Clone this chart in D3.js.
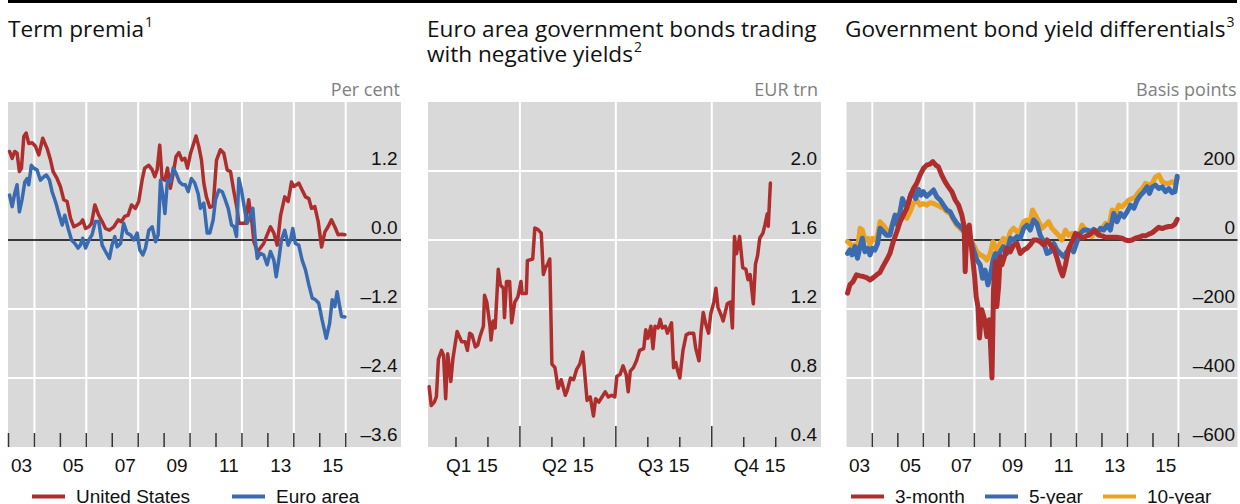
<!DOCTYPE html>
<html>
<head>
<meta charset="utf-8">
<script src="https://cdn.jsdelivr.net/npm/d3@7/dist/d3.min.js"></script>
<style>
  html, body { margin: 0; padding: 0; background: #fff; }
  svg { display: block; }
  .title { font-family: "Open Sans", "Noto Sans", sans-serif; font-size: 22.6px; fill: #111; }
  .sup { font-family: "Open Sans", "Noto Sans", sans-serif; font-size: 14px; fill: #111; }
  .unit { font-family: "Open Sans", "Noto Sans", sans-serif; font-size: 18px; fill: #808080; }
  .tick-label { font-family: "Liberation Sans", Arial, sans-serif; font-size: 19px; fill: #111; }
  .legend-label { font-family: "Liberation Sans", Arial, sans-serif; font-size: 19px; fill: #111; }
</style>
</head>
<body>
<svg id="chart" width="1240" height="504"></svg>
<script>
// ---- Term premia (per cent), [year, value]
const usTermPremium = [[2003.04,1.54],[2003.14,1.42],[2003.24,1.54],[2003.33,1.51],[2003.42,1.19],[2003.50,1.25],[2003.59,1.80],[2003.68,1.86],[2003.78,1.68],[2003.91,1.69],[2004.04,1.63],[2004.17,1.48],[2004.32,1.77],[2004.49,1.59],[2004.62,1.39],[2004.72,1.19],[2004.87,1.07],[2005.00,0.93],[2005.13,0.70],[2005.26,0.67],[2005.39,0.38],[2005.52,0.23],[2005.65,0.26],[2005.77,0.29],[2005.86,0.35],[2005.97,0.20],[2006.10,0.23],[2006.20,0.29],[2006.33,0.61],[2006.48,0.43],[2006.61,0.32],[2006.74,0.20],[2006.89,0.17],[2007.06,0.23],[2007.23,0.35],[2007.35,0.32],[2007.48,0.41],[2007.61,0.43],[2007.74,0.61],[2007.89,0.55],[2008.02,0.67],[2008.15,1.04],[2008.25,1.25],[2008.41,1.30],[2008.54,1.22],[2008.64,1.10],[2008.73,1.22],[2008.83,1.65],[2008.92,1.07],[2009.03,1.04],[2009.13,1.25],[2009.24,0.90],[2009.35,1.16],[2009.46,1.45],[2009.57,1.52],[2009.69,1.39],[2009.80,1.42],[2009.90,1.25],[2010.02,1.51],[2010.14,1.68],[2010.23,1.81],[2010.34,1.62],[2010.44,1.39],[2010.53,0.99],[2010.63,0.75],[2010.76,0.57],[2010.89,0.59],[2011.02,1.39],[2011.17,1.57],[2011.30,1.51],[2011.43,1.22],[2011.56,1.19],[2011.69,0.84],[2011.81,0.55],[2011.88,0.29],[2012.01,0.29],[2012.14,0.29],[2012.26,0.70],[2012.39,0.29],[2012.46,-0.03],[2012.59,-0.20],[2012.71,-0.14],[2012.84,-0.06],[2012.97,0.09],[2013.10,0.23],[2013.23,0.12],[2013.36,-0.09],[2013.49,0.43],[2013.65,0.75],[2013.78,0.67],[2013.91,1.01],[2014.00,0.93],[2014.10,0.96],[2014.19,0.99],[2014.32,0.87],[2014.45,0.75],[2014.58,0.72],[2014.68,0.55],[2014.81,0.58],[2014.94,0.32],[2015.07,-0.12],[2015.20,0.14],[2015.32,0.23],[2015.45,0.35],[2015.58,0.23],[2015.71,0.09],[2015.84,0.10],[2015.97,0.09]];
const euroTermPremium = [[2003.04,0.78],[2003.14,0.58],[2003.24,0.81],[2003.33,0.96],[2003.42,0.49],[2003.52,0.70],[2003.63,1.01],[2003.72,1.07],[2003.78,0.96],[2003.88,1.30],[2003.97,1.25],[2004.10,1.22],[2004.23,1.04],[2004.36,1.10],[2004.46,1.13],[2004.58,1.04],[2004.68,0.84],[2004.81,0.67],[2004.94,0.46],[2005.07,0.26],[2005.17,0.43],[2005.30,0.20],[2005.43,0.00],[2005.56,-0.06],[2005.68,-0.14],[2005.77,-0.09],[2005.86,0.03],[2005.97,-0.14],[2006.10,0.00],[2006.22,0.09],[2006.35,0.32],[2006.48,0.32],[2006.61,-0.09],[2006.74,-0.20],[2006.89,-0.32],[2006.99,-0.09],[2007.10,0.06],[2007.19,-0.12],[2007.32,-0.06],[2007.44,0.29],[2007.57,0.12],[2007.70,0.09],[2007.83,0.00],[2007.96,0.12],[2008.06,-0.17],[2008.18,-0.26],[2008.28,-0.14],[2008.41,0.17],[2008.54,0.23],[2008.67,-0.03],[2008.77,0.09],[2008.86,1.04],[2008.95,0.78],[2009.03,0.46],[2009.13,1.04],[2009.24,1.01],[2009.35,1.25],[2009.46,1.16],[2009.59,1.01],[2009.72,0.96],[2009.82,0.96],[2009.93,0.84],[2010.05,1.07],[2010.18,0.99],[2010.31,0.81],[2010.40,0.55],[2010.53,0.64],[2010.66,0.12],[2010.76,0.12],[2010.89,0.35],[2010.98,0.70],[2011.11,0.87],[2011.24,0.84],[2011.34,0.72],[2011.47,0.55],[2011.60,0.26],[2011.70,0.23],[2011.79,0.06],[2011.88,1.07],[2011.98,0.87],[2012.11,0.52],[2012.20,0.29],[2012.33,0.43],[2012.42,0.55],[2012.52,-0.03],[2012.59,-0.32],[2012.71,-0.23],[2012.84,-0.26],[2012.97,-0.43],[2013.10,-0.20],[2013.23,-0.35],[2013.32,-0.64],[2013.42,-0.35],[2013.52,0.00],[2013.65,0.17],[2013.78,-0.09],[2013.87,0.00],[2013.96,0.20],[2014.06,-0.06],[2014.19,-0.09],[2014.32,-0.35],[2014.45,-0.52],[2014.58,-0.78],[2014.71,-1.01],[2014.84,-1.04],[2014.96,-1.10],[2015.09,-1.39],[2015.25,-1.71],[2015.38,-1.45],[2015.48,-1.04],[2015.58,-1.16],[2015.67,-0.90],[2015.77,-1.16],[2015.84,-1.33],[2015.97,-1.34]];
const termTicks = [-3.6, -2.4, -1.2, 0.0, 1.2];

// ---- Euro area government bonds with negative yields (EUR trn), [date, value]
const negativeYieldBonds = [["2015-01-06",0.75],["2015-01-08",0.64],["2015-01-11",0.66],["2015-01-13",0.69],["2015-01-15",0.91],["2015-01-18",0.96],["2015-01-20",0.93],["2015-01-22",0.68],["2015-01-24",0.94],["2015-01-27",0.78],["2015-01-29",0.91],["2015-02-02",1.07],["2015-02-06",1.01],["2015-02-09",1.01],["2015-02-11",0.96],["2015-02-13",1.06],["2015-02-15",1.05],["2015-02-18",0.98],["2015-02-20",0.99],["2015-02-22",1.04],["2015-02-25",1.10],["2015-02-26",1.28],["2015-02-28",1.24],["2015-03-03",1.10],["2015-03-04",1.02],["2015-03-06",1.13],["2015-03-08",1.09],["2015-03-11",1.43],["2015-03-13",1.34],["2015-03-16",1.32],["2015-03-17",1.15],["2015-03-19",1.36],["2015-03-22",1.36],["2015-03-24",1.12],["2015-03-27",1.24],["2015-03-30",1.27],["2015-04-02",1.36],["2015-04-03",1.29],["2015-04-07",1.29],["2015-04-08",1.48],["2015-04-13",1.49],["2015-04-15",1.67],["2015-04-18",1.66],["2015-04-21",1.64],["2015-04-23",1.40],["2015-04-25",1.44],["2015-04-27",1.46],["2015-04-29",1.49],["2015-05-01",0.88],["2015-05-04",0.86],["2015-05-07",0.74],["2015-05-10",0.79],["2015-05-14",0.70],["2015-05-16",0.73],["2015-05-19",0.80],["2015-05-22",0.79],["2015-05-25",0.85],["2015-05-28",0.88],["2015-05-31",0.95],["2015-06-04",0.67],["2015-06-07",0.69],["2015-06-10",0.58],["2015-06-12",0.68],["2015-06-15",0.66],["2015-06-18",0.69],["2015-06-21",0.72],["2015-06-24",0.69],["2015-06-27",0.70],["2015-06-30",0.69],["2015-07-02",0.81],["2015-07-05",0.82],["2015-07-08",0.87],["2015-07-11",0.82],["2015-07-13",0.72],["2015-07-15",0.84],["2015-07-18",0.86],["2015-07-21",0.90],["2015-07-24",0.96],["2015-07-28",0.97],["2015-07-30",1.08],["2015-08-01",1.03],["2015-08-04",1.10],["2015-08-06",0.97],["2015-08-08",1.10],["2015-08-11",1.09],["2015-08-13",1.14],["2015-08-15",1.09],["2015-08-18",1.10],["2015-08-20",1.06],["2015-08-24",1.12],["2015-08-26",0.86],["2015-08-28",0.89],["2015-08-30",0.84],["2015-09-01",0.80],["2015-09-04",0.96],["2015-09-07",1.05],["2015-09-10",1.06],["2015-09-14",1.06],["2015-09-16",0.97],["2015-09-19",0.90],["2015-09-21",1.07],["2015-09-23",1.18],["2015-09-25",1.12],["2015-09-28",1.06],["2015-09-30",1.17],["2015-10-03",1.24],["2015-10-05",1.32],["2015-10-07",1.21],["2015-10-11",1.15],["2015-10-12",1.13],["2015-10-16",1.23],["2015-10-19",1.24],["2015-10-21",1.09],["2015-10-23",1.62],["2015-10-25",1.52],["2015-10-28",1.62],["2015-10-31",1.44],["2015-11-03",1.43],["2015-11-05",1.37],["2015-11-07",1.40],["2015-11-10",1.23],["2015-11-12",1.46],["2015-11-14",1.51],["2015-11-16",1.61],["2015-11-19",1.64],["2015-11-21",1.69],["2015-11-23",1.75],["2015-11-24",1.68],["2015-11-26",1.93]];
const bondTicks = [0.4, 0.8, 1.2, 1.6, 2.0];
const quarterLabels = ["Q1 15", "Q2 15", "Q3 15", "Q4 15"];

// ---- Government bond yield differentials (basis points), [year, value]
const diff3m = [[2003.03,-154],[2003.12,-130],[2003.25,-120],[2003.38,-101],[2003.52,-104],[2003.65,-106],[2003.78,-109],[2003.91,-116],[2004.04,-109],[2004.17,-101],[2004.30,-94],[2004.43,-75],[2004.56,-58],[2004.69,-39],[2004.82,-5],[2004.96,24],[2005.09,53],[2005.22,72],[2005.35,92],[2005.48,125],[2005.61,149],[2005.74,164],[2005.87,188],[2006.00,207],[2006.13,217],[2006.26,220],[2006.37,227],[2006.49,217],[2006.59,212],[2006.72,188],[2006.85,169],[2006.98,154],[2007.12,140],[2007.25,116],[2007.38,101],[2007.51,72],[2007.60,39],[2007.64,-92],[2007.70,19],[2007.80,43],[2007.87,-10],[2007.94,-58],[2008.01,-106],[2008.07,-164],[2008.14,-193],[2008.20,-284],[2008.29,-202],[2008.40,-231],[2008.49,-280],[2008.59,-231],[2008.69,-400],[2008.75,-145],[2008.82,-63],[2008.88,-193],[2008.95,-135],[2009.01,-48],[2009.08,-72],[2009.18,-48],[2009.27,-24],[2009.41,-34],[2009.54,-14],[2009.67,-10],[2009.80,-39],[2009.93,-29],[2010.06,-24],[2010.19,-14],[2010.32,0],[2010.45,0],[2010.58,-5],[2010.71,-14],[2010.85,0],[2010.98,-14],[2011.11,-24],[2011.24,-53],[2011.37,-87],[2011.46,-104],[2011.57,-72],[2011.70,-24],[2011.83,-5],[2011.96,19],[2012.09,14],[2012.22,5],[2012.35,10],[2012.48,14],[2012.61,21],[2012.74,27],[2012.87,14],[2013.01,12],[2013.14,8],[2013.27,8],[2013.40,8],[2013.53,8],[2013.66,7],[2013.79,5],[2013.92,0],[2014.05,-2],[2014.18,0],[2014.31,5],[2014.45,8],[2014.58,12],[2014.71,12],[2014.84,17],[2014.97,21],[2015.10,29],[2015.23,37],[2015.36,33],[2015.49,37],[2015.62,39],[2015.75,40],[2015.86,46],[2015.95,60]];
const diff5y = [[2003.03,-39],[2003.12,-29],[2003.21,-43],[2003.32,-19],[2003.42,-53],[2003.52,-19],[2003.61,5],[2003.71,-34],[2003.82,-24],[2003.91,-43],[2004.00,-24],[2004.10,-29],[2004.21,-10],[2004.30,34],[2004.43,24],[2004.56,14],[2004.69,14],[2004.82,53],[2004.89,72],[2004.99,43],[2005.09,82],[2005.18,120],[2005.28,101],[2005.41,106],[2005.52,135],[2005.61,140],[2005.70,120],[2005.81,147],[2005.91,130],[2006.00,140],[2006.13,127],[2006.26,135],[2006.40,145],[2006.53,125],[2006.66,116],[2006.79,101],[2006.92,87],[2007.05,82],[2007.18,63],[2007.31,48],[2007.44,39],[2007.57,29],[2007.70,14],[2007.84,5],[2007.97,-29],[2008.10,-58],[2008.23,-72],[2008.32,-111],[2008.42,-87],[2008.53,-130],[2008.62,-106],[2008.73,-58],[2008.82,-39],[2008.92,-72],[2009.01,-34],[2009.14,-19],[2009.27,-39],[2009.41,5],[2009.54,0],[2009.67,10],[2009.80,5],[2009.93,34],[2010.06,43],[2010.19,29],[2010.32,58],[2010.45,48],[2010.58,14],[2010.71,-5],[2010.85,-39],[2010.98,-34],[2011.11,-10],[2011.24,-29],[2011.37,-39],[2011.50,-48],[2011.63,-34],[2011.76,-24],[2011.89,-34],[2012.02,-5],[2012.15,19],[2012.29,29],[2012.42,29],[2012.55,24],[2012.68,31],[2012.81,19],[2012.94,34],[2013.07,29],[2013.20,43],[2013.33,29],[2013.46,77],[2013.59,53],[2013.73,77],[2013.86,67],[2013.99,82],[2014.12,101],[2014.25,92],[2014.38,116],[2014.51,130],[2014.64,140],[2014.77,154],[2014.86,135],[2014.97,154],[2015.10,159],[2015.23,149],[2015.36,154],[2015.49,140],[2015.62,149],[2015.75,137],[2015.86,140],[2015.95,185]];
const diff10y = [[2003.03,-5],[2003.12,-10],[2003.21,-19],[2003.32,-14],[2003.42,-29],[2003.52,34],[2003.61,29],[2003.71,0],[2003.82,5],[2003.91,-14],[2004.00,5],[2004.10,0],[2004.21,14],[2004.30,53],[2004.43,43],[2004.56,29],[2004.69,24],[2004.82,53],[2004.96,72],[2005.09,77],[2005.22,72],[2005.35,63],[2005.48,82],[2005.61,106],[2005.74,116],[2005.87,101],[2006.00,106],[2006.13,101],[2006.26,108],[2006.40,106],[2006.53,101],[2006.66,96],[2006.79,92],[2006.92,82],[2007.05,77],[2007.18,58],[2007.31,43],[2007.44,34],[2007.57,24],[2007.70,14],[2007.84,5],[2007.97,-14],[2008.10,-34],[2008.23,-43],[2008.36,-48],[2008.49,-58],[2008.62,-39],[2008.73,-5],[2008.82,-19],[2008.92,-34],[2009.01,-10],[2009.14,5],[2009.27,-10],[2009.41,24],[2009.54,34],[2009.67,24],[2009.80,29],[2009.93,53],[2010.06,58],[2010.19,53],[2010.28,87],[2010.39,72],[2010.52,53],[2010.65,34],[2010.78,43],[2010.91,53],[2011.04,34],[2011.17,24],[2011.30,14],[2011.43,0],[2011.57,29],[2011.70,14],[2011.83,19],[2011.96,5],[2012.09,14],[2012.22,43],[2012.35,29],[2012.48,19],[2012.61,10],[2012.74,24],[2012.87,19],[2013.01,34],[2013.14,48],[2013.27,39],[2013.40,87],[2013.53,77],[2013.66,101],[2013.79,96],[2013.92,106],[2014.05,116],[2014.18,120],[2014.31,125],[2014.45,140],[2014.58,149],[2014.71,164],[2014.84,159],[2014.97,164],[2015.10,183],[2015.23,188],[2015.36,169],[2015.49,164],[2015.62,164],[2015.75,169],[2015.88,164],[2015.95,178]];
const diffTicks = [-600, -400, -200, 0, 200];

const yearLabels = ["03", "05", "07", "09", "11", "13", "15"];

const RED = "#AD2E2C", BLUE = "#3A6BB1", ORANGE = "#E9A224";
const PLOT_BG = "#D9D9D9";

const svg = d3.select("#chart");

// thick rule across the top
svg.append("line").attr("x1", 8).attr("x2", 1237).attr("y1", 1.5).attr("y2", 1.5)
  .attr("stroke", "#000").attr("stroke-width", 3);

const fmtTick = v => (v < 0 ? "\u2013" : "") + d3.format(".1f")(Math.abs(v));
const fmtInt = v => (v < 0 ? "\u2013" : "") + Math.abs(v);

// panel heading: one text per line, footnote marker after the last line
function title(x, lines, sup) {
  let last;
  lines.forEach((ln, i) => {
    last = svg.append("text").attr("class", "title").attr("x", x).attr("y", 37 + 25 * i).text(ln);
  });
  const w = last.node().getComputedTextLength();
  svg.append("text").attr("class", "sup")
    .attr("x", x + w + 1).attr("y", 37 + 25 * (lines.length - 1) - 10).text(sup);
}

function panel(cfg) {
  const g = svg.append("g");
  const { left, right, top, bottom } = cfg.box;
  g.append("rect").attr("x", left).attr("y", top).attr("width", right - left).attr("height", bottom - top)
    .attr("fill", PLOT_BG);

  const y = d3.scaleLinear().domain(cfg.yDomain).range([bottom, top]);

  // horizontal grid
  g.selectAll(".hgrid").data(cfg.yTicks.filter(v => v !== cfg.yDomain[0] && !(v === 0 && cfg.zeroLine)))
    .join("line")
    .attr("x1", left).attr("x2", right)
    .attr("y1", d => y(d)).attr("y2", d => y(d))
    .attr("stroke", "#fff").attr("stroke-width", 2);

  // vertical grid
  g.selectAll(".vgrid").data(cfg.vGrid).join("line")
    .attr("x1", d => cfg.x(d)).attr("x2", d => cfg.x(d))
    .attr("y1", top).attr("y2", bottom)
    .attr("stroke", "#fff").attr("stroke-width", 2);

  if (cfg.zeroLine) {
    g.append("line").attr("x1", left).attr("x2", right).attr("y1", y(0)).attr("y2", y(0))
      .attr("stroke", "#000").attr("stroke-width", 1.5);
  }

  // x ticks rising from the bottom edge
  cfg.xTicks.forEach(tk => {
    g.selectAll(null).data(tk.values).join("line")
      .attr("x1", d => cfg.x(d)).attr("x2", d => cfg.x(d))
      .attr("y1", bottom).attr("y2", bottom - tk.len)
      .attr("stroke", "#333").attr("stroke-width", 1.5);
  });

  // y tick labels, sitting above their grid lines
  g.selectAll(".ylab").data(cfg.yTicks).join("text")
    .attr("class", "tick-label")
    .attr("x", cfg.labelX).attr("y", d => y(d) - 6)
    .attr("text-anchor", "end")
    .text(cfg.yFormat);

  // x labels
  g.selectAll(".xlab").data(cfg.xLabels).join("text")
    .attr("class", "tick-label")
    .attr("x", d => cfg.x(d.at)).attr("y", 472)
    .attr("text-anchor", "middle")
    .text(d => d.text);

  // unit
  g.append("text").attr("class", "unit").attr("x", cfg.unitX).attr("y", 96)
    .attr("text-anchor", "end").text(cfg.unit);

  // series
  const line = d3.line().x(d => cfg.x(d[0])).y(d => y(d[1]));
  cfg.series.forEach(s => {
    g.append("path").datum(s.data).attr("d", line)
      .attr("fill", "none").attr("stroke", s.color).attr("stroke-width", s.width)
      .attr("stroke-linejoin", "round").attr("stroke-linecap", "round");
  });
}

function legend(items) {
  items.forEach(it => {
    svg.append("line").attr("x1", it.x).attr("x2", it.x + 33).attr("y1", 496.5).attr("y2", 496.5)
      .attr("stroke", it.color).attr("stroke-width", 4);
    svg.append("text").attr("class", "legend-label").attr("x", it.x + 44).attr("y", 503).text(it.text);
  });
}

// ---------- Panel 1: term premia
const x1 = d3.scaleLinear().domain([2003, 2016]).range([8.5, 345.7]);
title(8, ["Term premia"], "1");
panel({
  box: { left: 8, right: 401, top: 102, bottom: 447 },
  x: x1,
  yDomain: [-3.6, 2.4], yTicks: termTicks, yFormat: fmtTick, zeroLine: true,
  vGrid: d3.range(2004, 2017, 2),
  xTicks: [{ values: d3.range(2003, 2017), len: 14 }],
  xLabels: yearLabels.map((t, i) => ({ text: t, at: 2003.5 + 2 * i })),
  labelX: 397.5, unitX: 400, unit: "Per cent",
  series: [
    { data: usTermPremium, color: RED, width: 3.5 },
    { data: euroTermPremium, color: BLUE, width: 3.5 }
  ]
});
legend([
  { x: 32, color: RED, text: "United States" },
  { x: 232, color: BLUE, text: "Euro area" }
]);

// ---------- Panel 2: negative-yield bonds (monthly spacing on the axis)
const parseDate = d3.timeParse("%Y-%m-%d");
const monthPos = d => {
  const dt = parseDate(d);
  const dim = new Date(dt.getFullYear(), dt.getMonth() + 1, 0).getDate();
  return (dt.getFullYear() - 2015) * 12 + dt.getMonth() + (dt.getDate() - 1) / dim;
};
const xm = d3.scaleLinear().domain([0, 12]).range([424, 807.7]);
const x2 = v => xm(typeof v === "string" ? monthPos(v) : v);
title(427, ["Euro area government bonds trading", "with negative yields"], "2");
panel({
  box: { left: 428, right: 821, top: 102, bottom: 447 },
  x: x2,
  yDomain: [0.4, 2.4], yTicks: bondTicks, yFormat: d => d3.format(".1f")(d), zeroLine: false,
  vGrid: [3, 6, 9],
  xTicks: [{ values: [3, 6, 9], len: 21 }, { values: [1, 2, 4, 5, 7, 8, 10, 11], len: 10 }],
  xLabels: quarterLabels.map((t, i) => ({ text: t, at: 1.5 + 3 * i })),
  labelX: 817, unitX: 818, unit: "EUR trn",
  series: [{ data: negativeYieldBonds, color: RED, width: 3.5 }]
});

// ---------- Panel 3: yield differentials
const x3 = d3.scaleLinear().domain([2003, 2016]).range([846.8, 1178.5]);
title(845, ["Government bond yield differentials"], "3");
panel({
  box: { left: 846.5, right: 1237.5, top: 102, bottom: 447 },
  x: x3,
  yDomain: [-600, 400], yTicks: diffTicks, yFormat: fmtInt, zeroLine: true,
  vGrid: d3.range(2004, 2017, 2),
  xTicks: [{ values: d3.range(2004, 2017), len: 14 }],
  xLabels: yearLabels.map((t, i) => ({ text: t, at: 2003.5 + 2 * i })),
  labelX: 1235, unitX: 1236.5, unit: "Basis points",
  series: [
    { data: diff10y, color: ORANGE, width: 5 },
    { data: diff5y, color: BLUE, width: 5 },
    { data: diff3m, color: RED, width: 5 }
  ]
});
legend([
  { x: 851, color: RED, text: "3-month" },
  { x: 985, color: BLUE, text: "5-year" },
  { x: 1103, color: ORANGE, text: "10-year" }
]);
</script>
</body>
</html>
